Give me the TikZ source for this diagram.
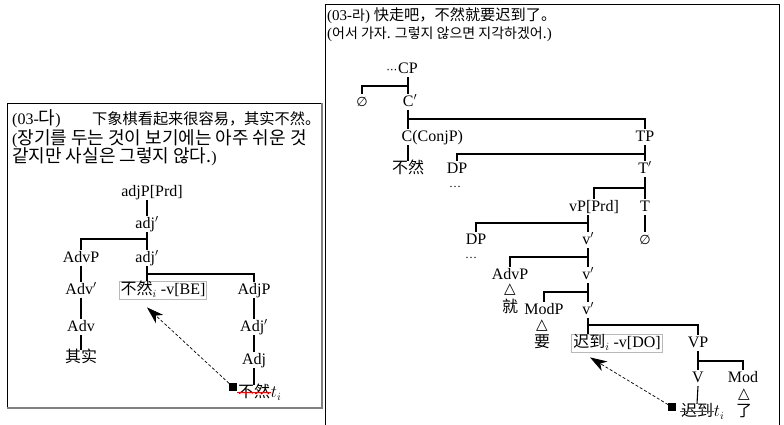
\documentclass[tikz,border=0pt]{standalone}
\usepackage{fontspec}
\setmainfont{Liberation Serif}
\newfontfamily\kr{Noto Sans CJK KR}
\newfontfamily\cn{Noto Sans CJK SC}
\newfontfamily\sym{DejaVu Sans}
\newcommand\krL[1]{{\kr\fontsize{18}{19}\selectfont #1}}
\newcommand\krR[1]{{\kr\fontsize{14}{18}\selectfont #1}}
\newcommand\cnh[1]{{\cn\fontsize{15.2}{19}\selectfont #1}}
\newcommand\empt{{\sym\fontsize{13}{13}\selectfont ∅}}
\usetikzlibrary{arrows.meta}
\begin{document}
\begin{tikzpicture}[x=1pt,y=-1pt, font=\fontsize{16}{19}\selectfont,
  t/.style={inner sep=0.5pt, text height=12pt, text depth=3pt},
  br/.style={line width=1.1pt},
  tbox/.style={t, draw=gray!55, line width=0.8pt, inner sep=1.5pt},
  tri/.style={inner sep=0pt, font=\sym\fontsize{15}{15}\selectfont},
  mv/.style={dash pattern=on 3pt off 2pt, line width=0.7pt, -{Stealth[length=17pt,width=11pt,inset=5pt]}},
  sq/.style={fill=black, minimum size=7.5pt, inner sep=0pt},
  strike/.style={red, line width=0.9pt},
  hdr/.style={anchor=west, inner sep=0pt}]
\useasboundingbox (0,0) rectangle (784,425);
% frames
\draw[line width=0.8pt] (322,103) -- (7,103) -- (7,408);
\draw[gray, line width=1.5pt] (322,103) -- (322,408) -- (7,408);
\draw[line width=0.8pt] (325,425) -- (325,4) -- (779,4) -- (779,425);
% headers
\node[hdr] (hL1) at (12,119) {(03-\krL{다})};
\node[hdr] (hL1b) at (92,119) {\cnh{下象棋看起来很容易，其实不然。}};
\node[hdr, anchor=north west, align=left, font=\fontsize{16}{18.5}\selectfont] (hL2) at (12,129)
  {(\krL{장기를 두는 것이 보기에는 아주 쉬운 것}\\\krL{같지만 사실은 그렇지 않다.})};
\node[hdr, anchor=north west, align=left, font=\fontsize{15}{18}\selectfont] (hR1) at (327,7)
  {(03-\krR{라}) \cnh{快走吧，不然就要迟到了。}\\(\krR{어서 가자. 그렇지 않으면 지각하겠어.})};
% left tree
\node[t] (lA) at (152,192) {adjP[Prd]};
\node[t] (lB) at (147,224) {adj$'$};
\node[t] (lC) at (81,258) {AdvP};
\node[t] (lD) at (147,258) {adj$'$};
\node[t] (lE) at (81,290) {Adv$'$};
\node[tbox] (lF) at (163,290) {{\cn 不然}$_i$ -v[BE]};
\node[t] (lG) at (254,290) {AdjP};
\node[t] (lH) at (81,327) {Adv};
\node[t] (lI) at (254,327) {Adj$'$};
\node[t] (lJ) at (81,358) {\cn 其实};
\node[t] (lK) at (254,360) {Adj};
\node[t] (lL) at (254,393) {\cn 不然};
\node[t, anchor=west, inner sep=0pt] (lLt) at (lL.east) {$t_i$};
\node[sq] (lsq) at (233,387) {};
\coordinate (lb1) at (0,239);
\coordinate (lb2) at (0,274);
\draw[br] (lA.south -| lB) -- (lB.north);
\draw[br] (lB.south) -- (lD.north);
\draw[br] (lC.north) |- (lD |- lb1);
\draw[br] (lD.south) -- (lF.north -| lD);
\draw[br] (lG.north) |- (lD |- lb2);
\draw[br] (lC.south) -- (lE.north);
\draw[br] (lE.south) -- (lH.north);
\draw[br] (lH.south) -- (lJ.north);
\draw[br] (lG.south) -- (lI.north);
\draw[br] (lI.south) -- (lK.north);
\draw[br] (lK.south) -- (lL.north);
\draw[strike] ([yshift=1pt]lL.west) -- ([yshift=1pt]lL.east);
\draw[mv] (lsq) -- ([xshift=-16pt,yshift=-8pt]lF.south);
% right tree
\node[t] (rA) at (408,69) {CP};
\node[t, anchor=east, inner sep=0pt] (rAd) at (rA.west) {\sym\fontsize{11}{11}\selectfont ⋯};
\node[t] (rB) at (362,102) {\empt};
\node[t] (rC) at (410,102) {C$'$};
\node[t, anchor=west] (rD) at (401,137) {C(ConjP)};
\node[t] (rE) at (645,137) {TP};
\node[t] (rF) at (408,169) {\cn 不然};
\node[t] (rG) at (457,169) {DP};
\node[t] (rH) at (645,169) {T$'$};
\node[inner sep=0pt] (rGd) at (455,187) {\fontsize{12}{12}\selectfont\ldots};
\node[t] (rI) at (594,207) {vP[Prd]};
\node[t] (rJ) at (645,207) {T};
\node[t] (rK) at (645,240) {\empt};
\node[t] (rL) at (476,240) {DP};
\node[t] (rM) at (588,240) {v$'$};
\node[inner sep=0pt] (rLd) at (471,258) {\fontsize{12}{12}\selectfont\ldots};
\node[t] (rN) at (510,275) {AdvP};
\node[t] (rO) at (588,275) {v$'$};
\node[tri] (rNt) at (510,290) {△};
\node[t] (rNw) at (510,308) {\cn 就};
\node[t] (rP) at (544,310) {ModP};
\node[t] (rQ) at (588,310) {v$'$};
\node[tri] (rPt) at (542,326) {△};
\node[t] (rPw) at (542,343) {\cn 要};
\node[tbox] (rR) at (617,343) {{\cn 迟到}$_i$ -v[DO]};
\node[t] (rS) at (698,343) {VP};
\node[t] (rT) at (698,378) {V};
\node[t] (rU) at (743,378) {Mod};
\node[tri] (rUt) at (744,395) {△};
\node[t] (rUw) at (744,412) {\cn 了};
\node[t] (rV) at (697,412) {\cn 迟到};
\node[t, anchor=west, inner sep=0pt] (rVt) at (rV.east) {$t_i$};
\node[sq] (rsq) at (672,407) {};
\coordinate (rb1) at (0,86);
\coordinate (rb2) at (0,119);
\coordinate (rb3) at (0,154);
\coordinate (rb4) at (0,188);
\coordinate (rb5) at (0,223);
\coordinate (rb6) at (0,257);
\coordinate (rb7) at (0,292);
\coordinate (rb8) at (0,325);
\coordinate (rb9) at (0,361);
\draw[br] (rA.south) -- (rC.north -| rA);
\draw[br] (rB.north) |- (rA |- rb1);
\draw[br] (rC.south -| rA) -- (rD.north -| rA);
\draw[br] (rE.north) |- (rA |- rb2);
\draw[br] (rD.south -| rA) -- (rF.north);
\draw[br] (rE.south) -- (rH.north);
\draw[br] (rG.north) |- (rE |- rb3);
\draw[br] (rH.south) -- (rJ.north);
\draw[br] (rI.north) |- (rH |- rb4);
\draw[br] (rJ.south) -- (rK.north);
\draw[br] (rI.south -| rM) -- (rM.north);
\draw[br] (rL.north) |- (rM |- rb5);
\draw[br] (rM.south) -- (rO.north);
\draw[br] (rN.north) |- (rO |- rb6);
\draw[br] (rO.south) -- (rQ.north);
\draw[br] (rP.north) |- (rQ |- rb7);
\draw[br] (rQ.south) -- (rR.north -| rQ);
\draw[br] (rS.north) |- (rQ |- rb8);
\draw[br] (rS.south) -- (rT.north);
\draw[br] (rU.north) |- (rS |- rb9);
\draw[br] (rT.south) -- (rV.north);
\draw[strike] ([yshift=1pt]rV.west) -- ([yshift=1pt]rV.east);
\draw[mv] (rsq) -- ([xshift=-27pt,yshift=-5pt]rR.south);
\end{tikzpicture}
\end{document}
